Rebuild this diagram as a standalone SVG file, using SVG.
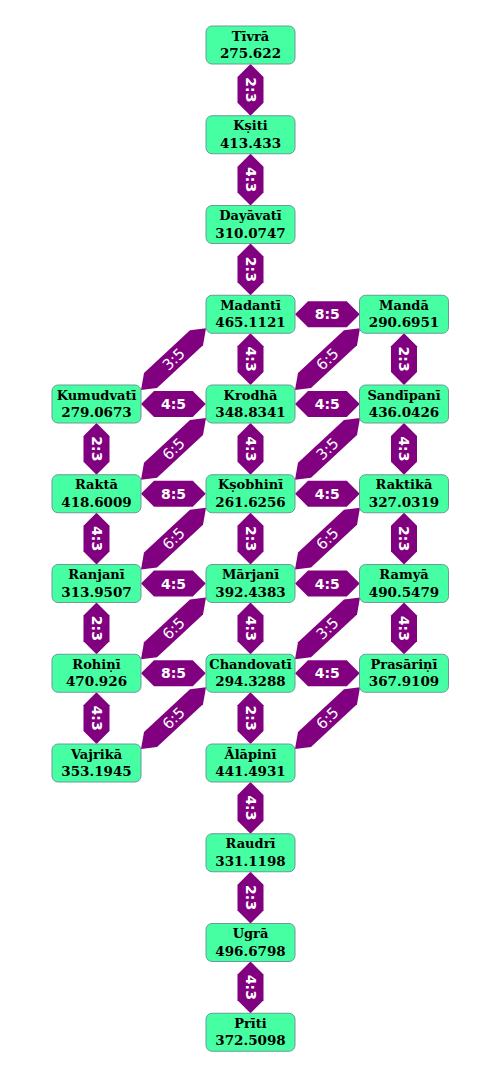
<svg xmlns="http://www.w3.org/2000/svg" xmlns:xlink="http://www.w3.org/1999/xlink" width="500" height="1077" viewBox="0 0 500 1077">
<style>
.node{fill:#45ffa2;stroke:#6a9a9a;stroke-width:1}
.nm{font-family:"DejaVu Serif",serif;font-weight:bold;font-size:13px;fill:#000;text-anchor:middle}
.nv{font-family:"DejaVu Serif",serif;font-weight:bold;font-size:13.5px;fill:#000;text-anchor:middle}
.con{fill:#800080}
.lb{font-family:"DejaVu Sans",sans-serif;font-weight:bold;font-size:14px;fill:#fff;text-anchor:middle}
.ld{font-family:"DejaVu Sans",sans-serif;font-size:15px;fill:#fff;text-anchor:middle}
</style>
<defs>
<polygon id="v" class="con" points="0,0 13,13 13,38.75 0,51.75 -13,38.75 -13,13"/>
<polygon id="h" class="con" points="0,0 13,-13 51.75,-13 64.75,0 51.75,13 13,13"/>
<polygon id="d" class="con" points="65,-61.75 49,-59.75 3,-17 0,0 16,-2 62,-44.75"/>
</defs>
<rect width="500" height="1077" fill="#fff"/>
<g id="connectors">
<use href="#v" x="250.5" y="64"/><text class="lb" transform="translate(250.5,89.9) rotate(90)" y="5">2:3</text>
<use href="#v" x="250.5" y="153.75"/><text class="lb" transform="translate(250.5,179.6) rotate(90)" y="5">4:3</text>
<use href="#v" x="250.5" y="243.5"/><text class="lb" transform="translate(250.5,269.4) rotate(90)" y="5">2:3</text>
<use href="#v" x="250.5" y="333.25"/><text class="lb" transform="translate(250.5,359.1) rotate(90)" y="5">4:3</text>
<use href="#v" x="250.5" y="423"/><text class="lb" transform="translate(250.5,448.9) rotate(90)" y="5">4:3</text>
<use href="#v" x="250.5" y="512.75"/><text class="lb" transform="translate(250.5,538.6) rotate(90)" y="5">2:3</text>
<use href="#v" x="250.5" y="602.5"/><text class="lb" transform="translate(250.5,628.4) rotate(90)" y="5">4:3</text>
<use href="#v" x="250.5" y="692.25"/><text class="lb" transform="translate(250.5,718.1) rotate(90)" y="5">2:3</text>
<use href="#v" x="250.5" y="782"/><text class="lb" transform="translate(250.5,807.9) rotate(90)" y="5">4:3</text>
<use href="#v" x="250.5" y="871.75"/><text class="lb" transform="translate(250.5,897.6) rotate(90)" y="5">2:3</text>
<use href="#v" x="250.5" y="961.5"/><text class="lb" transform="translate(250.5,987.4) rotate(90)" y="5">4:3</text>
<use href="#v" x="96.5" y="423"/><text class="lb" transform="translate(96.5,448.9) rotate(90)" y="5">2:3</text>
<use href="#v" x="96.5" y="512.75"/><text class="lb" transform="translate(96.5,538.6) rotate(90)" y="5">4:3</text>
<use href="#v" x="96.5" y="602.5"/><text class="lb" transform="translate(96.5,628.4) rotate(90)" y="5">2:3</text>
<use href="#v" x="96.5" y="692.25"/><text class="lb" transform="translate(96.5,718.1) rotate(90)" y="5">4:3</text>
<use href="#v" x="404" y="333.25"/><text class="lb" transform="translate(404,359.1) rotate(90)" y="5">2:3</text>
<use href="#v" x="404" y="423"/><text class="lb" transform="translate(404,448.9) rotate(90)" y="5">4:3</text>
<use href="#v" x="404" y="512.75"/><text class="lb" transform="translate(404,538.6) rotate(90)" y="5">2:3</text>
<use href="#v" x="404" y="602.5"/><text class="lb" transform="translate(404,628.4) rotate(90)" y="5">4:3</text>
<use href="#h" x="295" y="314.25"/><text class="lb" x="327.25" y="319.25">8:5</text>
<use href="#h" x="141" y="404"/><text class="lb" x="173.5" y="409">4:5</text>
<use href="#h" x="295" y="404"/><text class="lb" x="327.25" y="409">4:5</text>
<use href="#h" x="141" y="493.75"/><text class="lb" x="173.5" y="498.75">8:5</text>
<use href="#h" x="295" y="493.75"/><text class="lb" x="327.25" y="498.75">4:5</text>
<use href="#h" x="141" y="583.5"/><text class="lb" x="173.5" y="588.5">4:5</text>
<use href="#h" x="295" y="583.5"/><text class="lb" x="327.25" y="588.5">4:5</text>
<use href="#h" x="141" y="673.25"/><text class="lb" x="173.5" y="678.25">8:5</text>
<use href="#h" x="295" y="673.25"/><text class="lb" x="327.25" y="678.25">4:5</text>
<use href="#d" x="141" y="390"/><text class="ld" transform="translate(173.5,359.1) rotate(-43.5)" y="5.3">3:5</text>
<use href="#d" x="295" y="390"/><text class="ld" transform="translate(327.3,359.1) rotate(-43.5)" y="5.3">6:5</text>
<use href="#d" x="141" y="479.75"/><text class="ld" transform="translate(173.5,448.9) rotate(-43.5)" y="5.3">6:5</text>
<use href="#d" x="295" y="479.75"/><text class="ld" transform="translate(327.3,448.9) rotate(-43.5)" y="5.3">3:5</text>
<use href="#d" x="141" y="569.5"/><text class="ld" transform="translate(173.5,538.6) rotate(-43.5)" y="5.3">6:5</text>
<use href="#d" x="295" y="569.5"/><text class="ld" transform="translate(327.3,538.6) rotate(-43.5)" y="5.3">6:5</text>
<use href="#d" x="141" y="659.25"/><text class="ld" transform="translate(173.5,628.4) rotate(-43.5)" y="5.3">6:5</text>
<use href="#d" x="295" y="659.25"/><text class="ld" transform="translate(327.3,628.4) rotate(-43.5)" y="5.3">3:5</text>
<use href="#d" x="141" y="749"/><text class="ld" transform="translate(173.5,718.1) rotate(-43.5)" y="5.3">6:5</text>
<use href="#d" x="295" y="749"/><text class="ld" transform="translate(327.3,718.1) rotate(-43.5)" y="5.3">6:5</text>
</g>
<g id="n-tivra"><rect class="node" x="206" y="26" width="89" height="38" rx="6"/><text class="nm" x="250.5" y="40.5">Tīvrā</text><text class="nv" x="250.5" y="58">275.622</text></g>
<g id="n-ksiti"><rect class="node" x="206" y="115.75" width="89" height="38" rx="6"/><text class="nm" x="250.5" y="130.25">Kṣiti</text><text class="nv" x="250.5" y="147.75">413.433</text></g>
<g id="n-dayavati"><rect class="node" x="206" y="205.5" width="89" height="38" rx="6"/><text class="nm" x="250.5" y="220">Dayāvatī</text><text class="nv" x="250.5" y="237.5">310.0747</text></g>
<g id="n-madanti"><rect class="node" x="206" y="295.25" width="89" height="38" rx="6"/><text class="nm" x="250.5" y="309.75">Madantī</text><text class="nv" x="250.5" y="327.25">465.1121</text></g>
<g id="n-manda"><rect class="node" x="359.5" y="295.25" width="89" height="38" rx="6"/><text class="nm" x="404" y="309.75">Mandā</text><text class="nv" x="404" y="327.25">290.6951</text></g>
<g id="n-kumudvati"><rect class="node" x="52" y="385" width="89" height="38" rx="6"/><text class="nm" x="96.5" y="399.5">Kumudvatī</text><text class="nv" x="96.5" y="417">279.0673</text></g>
<g id="n-krodha"><rect class="node" x="206" y="385" width="89" height="38" rx="6"/><text class="nm" x="250.5" y="399.5">Krodhā</text><text class="nv" x="250.5" y="417">348.8341</text></g>
<g id="n-sandipani"><rect class="node" x="359.5" y="385" width="89" height="38" rx="6"/><text class="nm" x="404" y="399.5">Sandīpanī</text><text class="nv" x="404" y="417">436.0426</text></g>
<g id="n-rakta"><rect class="node" x="52" y="474.75" width="89" height="38" rx="6"/><text class="nm" x="96.5" y="489.25">Raktā</text><text class="nv" x="96.5" y="506.75">418.6009</text></g>
<g id="n-ksobhini"><rect class="node" x="206" y="474.75" width="89" height="38" rx="6"/><text class="nm" x="250.5" y="489.25">Kṣobhinī</text><text class="nv" x="250.5" y="506.75">261.6256</text></g>
<g id="n-raktika"><rect class="node" x="359.5" y="474.75" width="89" height="38" rx="6"/><text class="nm" x="404" y="489.25">Raktikā</text><text class="nv" x="404" y="506.75">327.0319</text></g>
<g id="n-ranjani"><rect class="node" x="52" y="564.5" width="89" height="38" rx="6"/><text class="nm" x="96.5" y="579">Ranjanī</text><text class="nv" x="96.5" y="596.5">313.9507</text></g>
<g id="n-marjani"><rect class="node" x="206" y="564.5" width="89" height="38" rx="6"/><text class="nm" x="250.5" y="579">Mārjanī</text><text class="nv" x="250.5" y="596.5">392.4383</text></g>
<g id="n-ramya"><rect class="node" x="359.5" y="564.5" width="89" height="38" rx="6"/><text class="nm" x="404" y="579">Ramyā</text><text class="nv" x="404" y="596.5">490.5479</text></g>
<g id="n-rohini"><rect class="node" x="52" y="654.25" width="89" height="38" rx="6"/><text class="nm" x="96.5" y="668.75">Rohiṇī</text><text class="nv" x="96.5" y="686.25">470.926</text></g>
<g id="n-chandovati"><rect class="node" x="206" y="654.25" width="89" height="38" rx="6"/><text class="nm" x="250.5" y="668.75">Chandovatī</text><text class="nv" x="250.5" y="686.25">294.3288</text></g>
<g id="n-prasarini"><rect class="node" x="359.5" y="654.25" width="89" height="38" rx="6"/><text class="nm" x="404" y="668.75">Prasāriṇī</text><text class="nv" x="404" y="686.25">367.9109</text></g>
<g id="n-vajrika"><rect class="node" x="52" y="744" width="89" height="38" rx="6"/><text class="nm" x="96.5" y="758.5">Vajrikā</text><text class="nv" x="96.5" y="776">353.1945</text></g>
<g id="n-alapini"><rect class="node" x="206" y="744" width="89" height="38" rx="6"/><text class="nm" x="250.5" y="758.5">Ālāpinī</text><text class="nv" x="250.5" y="776">441.4931</text></g>
<g id="n-raudri"><rect class="node" x="206" y="833.75" width="89" height="38" rx="6"/><text class="nm" x="250.5" y="848.25">Raudrī</text><text class="nv" x="250.5" y="865.75">331.1198</text></g>
<g id="n-ugra"><rect class="node" x="206" y="923.5" width="89" height="38" rx="6"/><text class="nm" x="250.5" y="938">Ugrā</text><text class="nv" x="250.5" y="955.5">496.6798</text></g>
<g id="n-priti"><rect class="node" x="206" y="1013.25" width="89" height="38" rx="6"/><text class="nm" x="250.5" y="1027.75">Prīti</text><text class="nv" x="250.5" y="1045.25">372.5098</text></g>
</svg>
